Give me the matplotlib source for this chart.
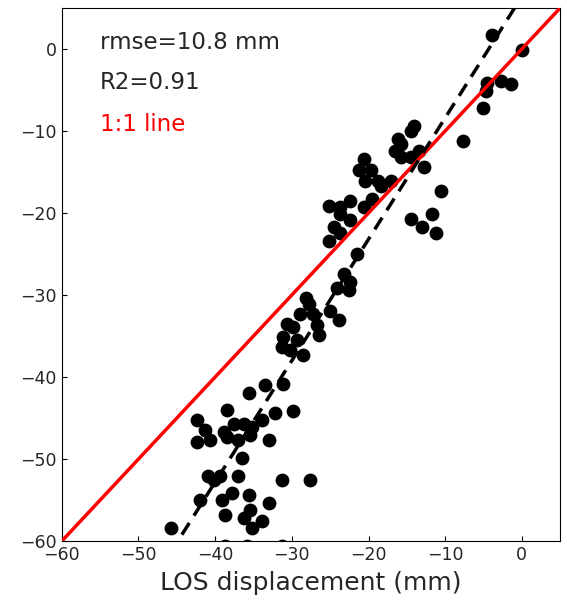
import numpy as np
import matplotlib.pyplot as plt

los = [-3.9, 0.0, -4.5, -2.7, -1.4, -4.7, -5.1, -7.7,
       -14.1, -14.5, -16.2, -15.8, -16.5, -15.8, -14.5, -13.4, -12.8, -10.6,
       -20.6, -21.3, -19.7, -20.4, -18.7, -17.1, -18.4,
       -25.2, -23.7, -22.4, -23.7, -20.6, -19.5, -22.4, -24.5, -25.2, -23.7,
       -14.5, -13.0, -11.7, -11.2,
       -21.5, -23.2, -22.4, -24.1, -22.6, -28.2, -27.8, -25.0, -28.9, -27.2,
       -23.9, -30.6, -29.8, -26.7, -31.1, -26.5, -29.3, -31.3, -28.5, -30.2,
       -33.5, -31.1, -35.6, -38.5, -42.4, -41.3, -42.4, -40.7, -38.9, -37.6,
       -36.3, -38.5, -37.0, -35.4, -35.2, -33.9, -32.2, -29.8, -33.0, -36.5,
       -40.9, -39.4, -40.2, -37.0, -31.3, -27.6,
       -42.0, -39.1, -37.8, -35.6, -33.0, -38.7, -36.3, -35.4, -33.9, -35.2,
       -45.7, -38.7, -35.9, -31.3]
obs = [1.7, -0.1, -4.1, -3.9, -4.3, -5.1, -7.2, -11.2,
       -9.4, -10.0, -11.0, -11.6, -12.4, -13.2, -13.2, -12.4, -14.4, -17.3,
       -13.4, -14.8, -14.8, -16.1, -16.1, -16.1, -16.7,
       -19.1, -19.3, -18.5, -20.1, -19.3, -18.3, -20.9, -21.7, -23.4, -22.5,
       -20.7, -21.7, -20.1, -22.5,
       -25.0, -27.4, -28.4, -29.2, -29.4, -30.4, -31.1, -31.9, -32.3, -32.3,
       -33.1, -33.5, -33.9, -33.7, -35.1, -34.9, -35.5, -36.3, -37.3, -36.7,
       -41.0, -40.8, -42.0, -44.0, -45.3, -46.5, -47.9, -47.7, -46.7, -45.7,
       -45.7, -47.3, -47.7, -47.1, -46.1, -45.3, -44.4, -44.2, -47.7, -49.9,
       -52.1, -52.1, -52.6, -52.1, -52.6, -52.6,
       -55.0, -55.0, -54.2, -54.4, -55.4, -56.8, -57.2, -56.2, -57.6, -58.4,
       -58.4, -60.6, -60.6, -60.6]

# regression line
fit_slope = 1.48
fit_intercept = 6.4

rmse_txt = 'rmse=10.8 mm'
r2_txt = 'R2=0.91'

fig = plt.figure(figsize=(5.67, 6.1), dpi=100)
ax = fig.add_axes([0.109, 0.113, 0.879, 0.874])

ax.scatter(los, obs, s=80, c='black', zorder=3)

lims = np.array([-60, 5])
ax.plot(lims, lims, color='red', lw=2.5, zorder=4)
ax.plot(lims, fit_slope * lims + fit_intercept, color='black', lw=2.5,
        ls=(0, (4, 2.5)), zorder=4)

ax.set_xlim(-60, 5)
ax.set_ylim(-60, 5)
ax.set_xticks([-60, -50, -40, -30, -20, -10, 0])
ax.set_yticks([-60, -50, -40, -30, -20, -10, 0])
ax.tick_params(direction='in', labelsize=12.5, labelcolor='#262626')
ax.set_xlabel('LOS displacement (mm)', fontsize=18, color='#262626',
              labelpad=5)

ax.text(0.076, 0.936, rmse_txt, transform=ax.transAxes, fontsize=16.5,
        va='center', color='#262626')
ax.text(0.076, 0.861, r2_txt, transform=ax.transAxes, fontsize=16.5,
        va='center', color='#262626')
ax.text(0.076, 0.782, '1:1 line', transform=ax.transAxes, fontsize=16.5,
        va='center', color='red')

fig.savefig('out.png', dpi=100)
